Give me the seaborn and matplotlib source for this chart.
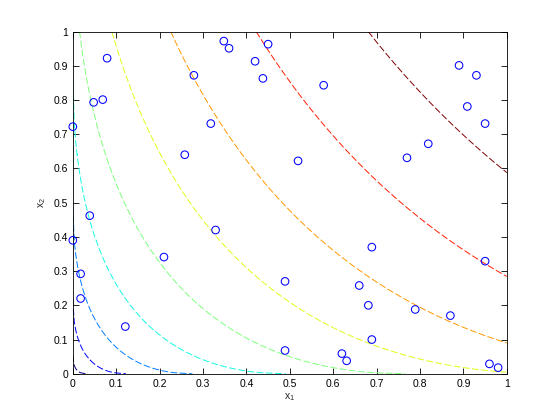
import numpy as np
import pandas as pd
import matplotlib
matplotlib.use("Agg")
import matplotlib.pyplot as plt
import seaborn as sns

# sample points
x1_pts = [0.079, 0.048, 0.069, 0.0, 0.039, 0.0, 0.018, 0.018, 0.121, 0.210,
          0.258, 0.279, 0.318, 0.329, 0.348, 0.360, 0.420, 0.438, 0.450, 0.489,
          0.489, 0.519, 0.578, 0.620, 0.631, 0.660, 0.681, 0.689, 0.689, 0.770,
          0.789, 0.819, 0.870, 0.890, 0.909, 0.930, 0.950, 0.950, 0.960, 0.980]
x2_pts = [0.922, 0.793, 0.801, 0.722, 0.462, 0.390, 0.292, 0.220, 0.138, 0.341,
          0.640, 0.872, 0.731, 0.420, 0.972, 0.951, 0.913, 0.863, 0.963, 0.270,
          0.068, 0.622, 0.843, 0.059, 0.038, 0.258, 0.200, 0.370, 0.100, 0.631,
          0.188, 0.672, 0.170, 0.901, 0.781, 0.872, 0.731, 0.329, 0.029, 0.018]

# contour surface: f = a*sqrt(x1) + b*sqrt(x2), levels as MATLAB picks them
coef_x1 = 1.0
coef_x2 = 0.75
n_levels = 9
ticks = [0, 0.1, 0.2, 0.3, 0.4, 0.5, 0.6, 0.7, 0.8, 0.9, 1]
tick_labels = ["0", "0.1", "0.2", "0.3", "0.4", "0.5", "0.6", "0.7", "0.8", "0.9", "1"]

sns.set_style("white")
plt.rcParams["font.family"] = ["Liberation Sans", "DejaVu Sans"]
plt.rcParams["mathtext.fontset"] = "custom"
plt.rcParams["mathtext.rm"] = "Liberation Sans"
plt.rcParams["mathtext.it"] = "Liberation Sans"

fig = plt.figure(figsize=(5.6, 4.2), dpi=100, facecolor="white")
ax = fig.add_axes([0.13, 0.11, 0.775, 0.815])

g = np.linspace(0, 1, 301)
X1, X2 = np.meshgrid(g, g)
Z = coef_x1 * np.sqrt(X1) + coef_x2 * np.sqrt(X2)
zmax = coef_x1 + coef_x2
levels = np.linspace(0, zmax, n_levels + 2)[1:-1]

# MATLAB colours the lines over the range of the levels themselves
cs = ax.contour(X1, X2, Z, levels=levels, cmap="jet",
                vmin=levels[0], vmax=levels[-1], linewidths=0.7)
cs.set_linestyle((0, (7, 2.5)))

df = pd.DataFrame({"x1": x1_pts, "x2": x2_pts})
sns.scatterplot(data=df, x="x1", y="x2", ax=ax, marker="o", s=30,
                facecolors="none", edgecolor="#0000ff", linewidth=0.75,
                clip_on=False, zorder=3)

ax.set_xlim(0, 1)
ax.set_ylim(0, 1)
ax.set_xticks(ticks)
ax.set_yticks(ticks)
ax.set_xticklabels(tick_labels)
ax.set_yticklabels(tick_labels)
ax.tick_params(direction="in", length=4, width=0.6, labelsize=7.5,
               top=True, right=True, bottom=True, left=True, colors="black")
for s in ax.spines.values():
    s.set_color("black")
    s.set_linewidth(0.6)
ax.set_xlabel("x$_1$", fontsize=7.5, labelpad=2)
ax.set_ylabel("x$_2$", fontsize=7.5, labelpad=4)

fig.savefig("out.png", dpi=100, facecolor="white")
